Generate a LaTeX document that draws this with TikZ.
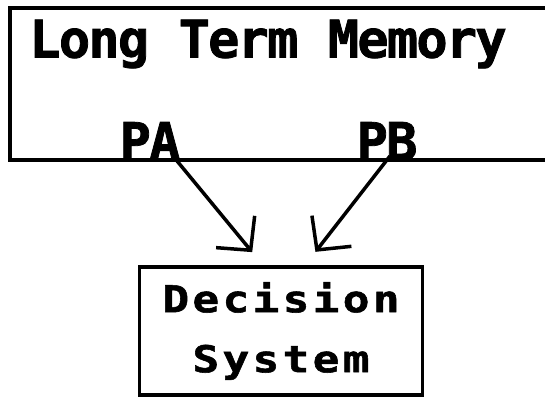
\documentclass[tikz,border=0pt]{standalone}
\usepackage{fontspec}
\newfontfamily\titlefont{DejaVu Sans Mono}[LetterSpace=-3.5, FakeBold=1.5]
\newfontfamily\boxfont{DejaVu Sans Mono}[FakeStretch=1.2, LetterSpace=9, FakeBold=1.5]
\usetikzlibrary{arrows.meta, positioning}
\tikzset{
    block/.style={rectangle, draw=black, line width=3.5pt, inner sep=0pt},
    bigtext/.style={inner sep=0pt, font=\titlefont\bfseries\fontsize{52}{60}\selectfont},
    arrow/.style={line width=3.5pt, -{Straight Barb[length=24pt, width=50pt, line width=3.5pt]}, shorten >=17pt}
}

\begin{document}
\begin{tikzpicture}[x=1pt, y=-1pt]
    \useasboundingbox (0,0) rectangle (545,399);
    \node (ltm) [block, minimum width=552pt, minimum height=152pt] at (286,84) {};
    \node (title) [bigtext] at (268,44) {Long Term Memory};
    \node (pa) [bigtext, anchor=base] at (150,160) {PA};
    \node (pb) [bigtext, anchor=base] at (387,160) {PB};
    \node (ds) [block, minimum width=283pt, minimum height=128pt, align=center,
        font=\boxfont\bfseries\fontsize{37}{60}\selectfont] at (281,331) {Decision\\System};

    \draw [arrow] ([xshift=-6pt, yshift=2pt]pa.base east) -- ([xshift=-18pt]ds.north);
    \draw [arrow] ([xshift=3pt, yshift=4pt]pb.base) -- ([xshift=24pt]ds.north);
\end{tikzpicture}
\end{document}
